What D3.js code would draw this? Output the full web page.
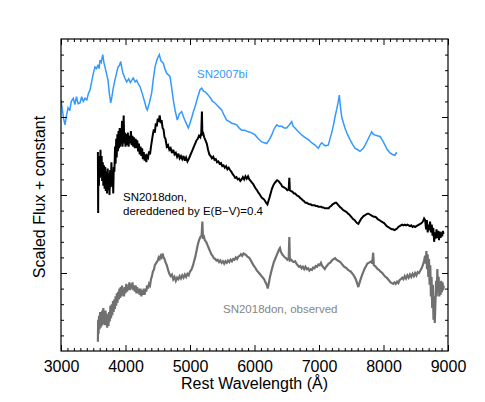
<!DOCTYPE html>
<html lang="en">
<head>
<meta charset="utf-8">
<title>SN2018don spectra</title>
<script src="https://cdn.jsdelivr.net/npm/d3@7"></script>
<style>
  body { margin: 0; background: #fff; }
  svg { font-family: "Liberation Sans", Arial, Helvetica, sans-serif; }
</style>
</head>
<body>
<div id="chart"></div>
<script>
// spectra: [rest wavelength (A), scaled flux + constant]
var sn2007bi = [[3000,3.22],[3020,3.10],[3040,2.98],[3062,2.90],[3085,3.02],[3110,3.12],[3135,3.08],[3160,3.20],[3191,3.24],[3215,3.16],[3240,3.26],[3265,3.17],[3295,3.18],[3320,3.26],[3345,3.20],[3372,3.24],[3400,3.22],[3425,3.30],[3450,3.35],[3475,3.45],[3501,3.56],[3527,3.64],[3550,3.62],[3574,3.67],[3590,3.62],[3605,3.73],[3625,3.70],[3647,3.80],[3665,3.70],[3682,3.64],[3705,3.56],[3729,3.47],[3750,3.30],[3771,3.18],[3790,3.26],[3806,3.35],[3830,3.45],[3860,3.56],[3884,3.64],[3905,3.66],[3926,3.71],[3945,3.62],[3961,3.56],[3990,3.50],[4019,3.45],[4050,3.49],[4075,3.44],[4096,3.47],[4120,3.50],[4150,3.45],[4174,3.47],[4200,3.42],[4225,3.39],[4260,3.30],[4302,3.18],[4320,3.12],[4338,3.09],[4370,3.18],[4406,3.31],[4430,3.48],[4457,3.64],[4490,3.74],[4524,3.80],[4550,3.72],[4586,3.69],[4610,3.62],[4639,3.56],[4665,3.54],[4690,3.52],[4715,3.38],[4741,3.22],[4770,3.08],[4803,2.96],[4835,3.04],[4871,3.07],[4900,3.00],[4930,2.94],[4974,2.86],[5000,2.92],[5026,2.99],[5050,3.06],[5078,3.13],[5115,3.24],[5155,3.35],[5181,3.37],[5210,3.33],[5240,3.32],[5284,3.28],[5320,3.24],[5350,3.20],[5388,3.18],[5420,3.15],[5455,3.12],[5491,3.09],[5530,3.02],[5569,2.96],[5610,2.94],[5647,2.92],[5690,2.91],[5724,2.90],[5760,2.86],[5802,2.83],[5850,2.83],[5904,2.81],[5950,2.80],[6008,2.77],[6060,2.72],[6112,2.68],[6150,2.67],[6189,2.66],[6230,2.71],[6267,2.77],[6300,2.84],[6344,2.90],[6380,2.88],[6422,2.88],[6460,2.86],[6499,2.86],[6540,2.90],[6577,2.94],[6600,2.88],[6628,2.86],[6680,2.81],[6732,2.77],[6780,2.74],[6834,2.71],[6885,2.67],[6938,2.64],[6989,2.60],[7015,2.64],[7042,2.67],[7095,2.63],[7144,2.64],[7170,2.72],[7197,2.80],[7225,2.90],[7248,3.00],[7275,3.10],[7299,3.20],[7315,3.28],[7330,3.15],[7352,3.00],[7380,2.92],[7403,2.86],[7440,2.78],[7481,2.71],[7520,2.65],[7558,2.60],[7600,2.58],[7636,2.56],[7660,2.58],[7687,2.60],[7715,2.64],[7740,2.68],[7780,2.75],[7817,2.81],[7840,2.78],[7868,2.77],[7905,2.76],[7946,2.75],[7985,2.70],[8023,2.64],[8060,2.58],[8101,2.54],[8140,2.52],[8178,2.51],[8195,2.54],[8209,2.53]];

var sn2018donDered = [[3572,2.55],[3576,1.77],[3580,2.45],[3588,2.12],[3596,2.50],[3604,2.22],[3612,2.58],[3620,2.28],[3630,2.50],[3638,2.18],[3648,2.42],[3656,2.12],[3666,2.38],[3676,2.08],[3686,2.36],[3694,2.05],[3704,2.30],[3714,2.02],[3724,2.34],[3734,2.06],[3744,2.28],[3752,2.00],[3762,2.32],[3772,2.10],[3782,2.42],[3790,2.12],[3800,2.30],[3810,2.02],[3818,2.36],[3828,2.30],[3838,2.62],[3846,2.40],[3856,2.72],[3864,2.48],[3874,2.78],[3882,2.56],[3892,2.82],[3900,2.60],[3910,2.86],[3918,2.62],[3928,2.84],[3936,2.66],[3946,2.95],[3954,2.62],[3964,2.82],[3972,3.02],[3980,2.66],[3990,2.80],[4000,2.62],[4012,2.78],[4024,2.64],[4036,2.80],[4048,2.62],[4060,2.76],[4072,2.66],[4084,2.82],[4096,2.64],[4108,2.76],[4120,2.62],[4132,2.74],[4145,2.60],[4158,2.72],[4170,2.60],[4182,2.70],[4195,2.56],[4208,2.66],[4220,2.52],[4233,2.62],[4246,2.50],[4258,2.60],[4270,2.46],[4283,2.55],[4296,2.44],[4310,2.52],[4322,2.42],[4335,2.50],[4350,2.48],[4365,2.56],[4380,2.52],[4395,2.62],[4410,2.70],[4425,2.78],[4440,2.84],[4455,2.80],[4470,2.92],[4485,2.88],[4500,2.98],[4515,2.94],[4530,3.02],[4545,2.92],[4560,2.96],[4575,2.86],[4590,2.84],[4605,2.74],[4620,2.72],[4640,2.62],[4660,2.64],[4680,2.58],[4700,2.60],[4720,2.54],[4740,2.58],[4760,2.52],[4780,2.54],[4800,2.49],[4820,2.53],[4840,2.47],[4860,2.50],[4880,2.46],[4900,2.50],[4920,2.44],[4940,2.48],[4960,2.43],[4980,2.46],[5000,2.50],[5020,2.54],[5040,2.58],[5060,2.62],[5080,2.66],[5100,2.70],[5120,2.72],[5140,2.76],[5160,2.74],[5175,2.80],[5185,3.07],[5192,2.78],[5205,2.79],[5220,2.74],[5240,2.70],[5260,2.66],[5280,2.58],[5300,2.52],[5320,2.50],[5340,2.47],[5360,2.49],[5380,2.45],[5400,2.46],[5420,2.42],[5440,2.43],[5460,2.40],[5480,2.41],[5500,2.37],[5520,2.38],[5540,2.35],[5560,2.37],[5580,2.33],[5600,2.35],[5620,2.32],[5640,2.30],[5660,2.27],[5680,2.25],[5700,2.22],[5720,2.23],[5740,2.20],[5760,2.21],[5780,2.18],[5800,2.20],[5820,2.23],[5840,2.20],[5860,2.24],[5880,2.21],[5900,2.24],[5920,2.20],[5940,2.18],[5960,2.16],[5980,2.14],[6000,2.11],[6020,2.08],[6040,2.06],[6060,2.03],[6080,2.01],[6100,1.98],[6120,1.96],[6140,1.95],[6160,1.93],[6180,1.90],[6200,1.88],[6215,1.92],[6230,1.96],[6250,2.02],[6270,2.08],[6290,2.12],[6310,2.15],[6330,2.17],[6350,2.19],[6370,2.18],[6390,2.16],[6410,2.14],[6430,2.11],[6450,2.10],[6470,2.09],[6490,2.08],[6510,2.06],[6530,2.07],[6540,2.22],[6548,2.06],[6570,2.05],[6590,2.04],[6610,2.02],[6630,2.02],[6650,2.00],[6670,1.99],[6690,1.98],[6710,1.96],[6730,1.95],[6750,1.93],[6770,1.92],[6790,1.90],[6810,1.90],[6830,1.89],[6850,1.88],[6870,1.88],[6890,1.87],[6910,1.87],[6930,1.87],[6950,1.86],[6970,1.86],[6990,1.85],[7010,1.85],[7030,1.85],[7050,1.84],[7070,1.84],[7090,1.83],[7110,1.83],[7130,1.83],[7150,1.83],[7170,1.85],[7190,1.86],[7210,1.88],[7230,1.89],[7250,1.90],[7270,1.90],[7290,1.88],[7310,1.86],[7330,1.84],[7350,1.83],[7370,1.81],[7390,1.80],[7410,1.79],[7430,1.78],[7450,1.76],[7470,1.75],[7490,1.73],[7510,1.71],[7530,1.69],[7550,1.68],[7570,1.66],[7590,1.64],[7610,1.63],[7630,1.66],[7650,1.69],[7670,1.71],[7690,1.73],[7710,1.74],[7730,1.75],[7750,1.76],[7770,1.76],[7790,1.75],[7810,1.74],[7830,1.73],[7850,1.72],[7870,1.72],[7890,1.71],[7910,1.69],[7930,1.68],[7950,1.67],[7970,1.66],[7990,1.65],[8010,1.64],[8030,1.62],[8050,1.60],[8070,1.59],[8090,1.58],[8110,1.57],[8130,1.56],[8150,1.56],[8170,1.55],[8190,1.56],[8210,1.57],[8230,1.59],[8250,1.60],[8270,1.61],[8290,1.62],[8310,1.61],[8330,1.62],[8350,1.61],[8370,1.62],[8390,1.61],[8410,1.60],[8430,1.61],[8450,1.59],[8470,1.60],[8490,1.59],[8510,1.60],[8530,1.61],[8550,1.62],[8570,1.63],[8590,1.64],[8610,1.66],[8630,1.70],[8645,1.68],[8660,1.56],[8672,1.68],[8685,1.52],[8698,1.62],[8710,1.55],[8722,1.66],[8735,1.52],[8748,1.62],[8760,1.48],[8772,1.58],[8785,1.40],[8798,1.52],[8810,1.44],[8822,1.56],[8835,1.45],[8848,1.54],[8860,1.42],[8872,1.53],[8885,1.45],[8898,1.52],[8910,1.47],[8920,1.54],[8930,1.50]];

var sn2018donObs = [[3572,0.12],[3576,0.40],[3582,0.22],[3590,0.45],[3598,0.28],[3606,0.50],[3614,0.30],[3622,0.48],[3630,0.32],[3640,0.52],[3648,0.34],[3656,0.55],[3664,0.36],[3672,0.50],[3680,0.33],[3690,0.52],[3698,0.34],[3706,0.48],[3716,0.30],[3726,0.46],[3736,0.32],[3746,0.50],[3756,0.38],[3766,0.58],[3776,0.42],[3786,0.60],[3796,0.46],[3806,0.64],[3816,0.50],[3826,0.66],[3836,0.54],[3846,0.70],[3856,0.58],[3866,0.74],[3876,0.62],[3886,0.76],[3896,0.66],[3906,0.80],[3916,0.68],[3926,0.82],[3936,0.70],[3946,0.84],[3956,0.72],[3966,0.80],[3976,0.70],[3988,0.82],[4000,0.74],[4012,0.86],[4024,0.76],[4036,0.84],[4048,0.78],[4060,0.88],[4072,0.78],[4084,0.86],[4096,0.80],[4108,0.88],[4120,0.78],[4132,0.84],[4145,0.76],[4158,0.84],[4170,0.74],[4182,0.82],[4195,0.74],[4208,0.80],[4220,0.72],[4233,0.80],[4246,0.70],[4258,0.78],[4270,0.72],[4283,0.80],[4296,0.72],[4310,0.80],[4322,0.76],[4335,0.84],[4350,0.80],[4365,0.86],[4380,0.84],[4395,0.92],[4410,0.96],[4425,1.02],[4440,1.04],[4455,1.10],[4470,1.12],[4485,1.14],[4500,1.16],[4515,1.20],[4530,1.18],[4545,1.22],[4560,1.20],[4575,1.25],[4590,1.20],[4605,1.18],[4620,1.14],[4640,1.10],[4660,1.04],[4680,0.99],[4700,0.96],[4720,0.98],[4740,0.92],[4760,0.95],[4780,0.90],[4800,0.94],[4820,0.92],[4840,0.96],[4860,0.93],[4880,0.97],[4900,0.94],[4920,0.98],[4940,0.95],[4960,0.99],[4980,0.97],[5000,1.02],[5020,1.04],[5040,1.08],[5060,1.14],[5080,1.20],[5100,1.28],[5120,1.36],[5140,1.42],[5160,1.46],[5180,1.48],[5192,1.66],[5200,1.46],[5215,1.47],[5230,1.42],[5250,1.40],[5270,1.36],[5290,1.32],[5310,1.28],[5330,1.24],[5350,1.22],[5370,1.19],[5390,1.18],[5410,1.16],[5430,1.17],[5450,1.14],[5470,1.16],[5490,1.13],[5510,1.15],[5530,1.12],[5550,1.15],[5570,1.13],[5590,1.16],[5610,1.14],[5630,1.17],[5650,1.15],[5670,1.18],[5690,1.17],[5710,1.20],[5730,1.18],[5750,1.21],[5770,1.22],[5790,1.24],[5810,1.22],[5830,1.25],[5850,1.24],[5870,1.23],[5890,1.21],[5910,1.20],[5930,1.18],[5950,1.15],[5970,1.12],[5990,1.09],[6010,1.07],[6030,1.04],[6050,1.02],[6070,1.00],[6090,0.98],[6110,0.96],[6130,0.94],[6150,0.92],[6170,0.88],[6190,0.85],[6205,0.80],[6220,0.86],[6240,0.95],[6260,1.02],[6280,1.08],[6300,1.14],[6320,1.18],[6340,1.22],[6360,1.26],[6380,1.30],[6395,1.32],[6410,1.27],[6430,1.24],[6450,1.22],[6470,1.20],[6490,1.19],[6510,1.17],[6530,1.18],[6540,1.46],[6548,1.16],[6570,1.17],[6590,1.15],[6610,1.14],[6630,1.15],[6650,1.12],[6670,1.10],[6690,1.08],[6710,1.09],[6730,1.06],[6750,1.08],[6770,1.05],[6790,1.08],[6810,1.05],[6830,1.06],[6850,1.03],[6870,1.05],[6890,1.04],[6910,1.07],[6930,1.06],[6950,1.09],[6970,1.08],[6990,1.11],[7010,1.10],[7030,1.13],[7050,1.09],[7070,1.07],[7090,1.05],[7110,1.08],[7130,1.10],[7150,1.12],[7170,1.13],[7190,1.15],[7210,1.17],[7230,1.18],[7250,1.19],[7270,1.17],[7290,1.16],[7310,1.15],[7330,1.14],[7350,1.12],[7370,1.10],[7390,1.08],[7410,1.07],[7430,1.06],[7450,1.04],[7470,1.03],[7490,1.02],[7510,1.00],[7530,0.98],[7550,0.95],[7570,0.92],[7590,0.87],[7610,0.82],[7630,0.88],[7650,0.93],[7670,0.98],[7690,1.02],[7710,1.06],[7730,1.09],[7750,1.12],[7770,1.13],[7790,1.14],[7810,1.15],[7825,1.12],[7840,1.26],[7850,1.10],[7870,1.09],[7890,1.07],[7910,1.05],[7930,1.04],[7950,1.02],[7970,1.01],[7990,0.99],[8010,0.97],[8030,0.95],[8050,0.94],[8070,0.92],[8090,0.90],[8110,0.88],[8130,0.87],[8150,0.86],[8170,0.88],[8190,0.86],[8210,0.89],[8230,0.87],[8250,0.91],[8270,0.92],[8290,0.94],[8310,0.92],[8330,0.96],[8350,0.93],[8370,0.97],[8390,0.94],[8410,0.98],[8430,0.95],[8450,0.99],[8470,0.96],[8490,1.00],[8510,0.97],[8530,1.01],[8550,1.00],[8570,1.03],[8590,1.06],[8610,1.10],[8630,1.16],[8645,1.22],[8655,1.12],[8665,1.28],[8675,1.05],[8685,1.24],[8695,0.95],[8705,1.18],[8715,0.85],[8725,1.10],[8735,0.70],[8745,0.95],[8755,0.55],[8765,0.85],[8775,0.40],[8785,0.70],[8795,0.36],[8805,0.62],[8815,0.90],[8825,0.70],[8835,1.05],[8845,0.75],[8855,0.95],[8865,0.70],[8875,0.88],[8885,0.72],[8895,0.90],[8905,0.75],[8915,0.88],[8925,0.78],[8935,0.84]];

var xMajorTicks = [3000, 4000, 5000, 6000, 7000, 8000, 9000];
var yMajorTicks = [1, 2, 3];

var seriesNames = ["SN2007bi", "SN2018don, dereddened", "SN2018don, observed"];
var seriesColors = ["#3399ff", "#000000", "#707070"];

var width = 485, height = 402;
var margin = {top: 39, right: 37, bottom: 51, left: 61};

var x = d3.scaleLinear().domain([3000, 9000]).range([margin.left, width - margin.right]);
var y = d3.scaleLinear().domain([0, 4]).range([height - margin.bottom, margin.top]);

var svg = d3.select("#chart").append("svg")
    .attr("width", width)
    .attr("height", height);

svg.append("clipPath").attr("id", "plot-clip")
  .append("rect")
    .attr("x", x(3000)).attr("y", y(4))
    .attr("width", x(9000) - x(3000)).attr("height", y(0) - y(4));

var line = d3.line()
    .x(function(d) { return x(d[0]); })
    .y(function(d) { return y(d[1]); });

var spectra = [sn2007bi, sn2018donDered, sn2018donObs];
// noisy spectra drawn thicker so they read as a band, like the original
var widths = [1.5, 2, 2.2];

svg.append("g").attr("clip-path", "url(#plot-clip)")
  .selectAll("path")
  .data(spectra)
  .enter().append("path")
    .attr("d", line)
    .attr("fill", "none")
    .attr("stroke", function(d, i) { return seriesColors[i]; })
    .attr("stroke-width", function(d, i) { return widths[i]; })
    .attr("stroke-linejoin", "miter")
    .attr("stroke-miterlimit", 3);

// minor ticks, every 100 A and every 0.2 units
var xMinor = d3.range(3000, 9001, 100).filter(function(v) { return v % 1000 != 0; });
var yMinor = d3.range(1, 20).map(function(v) { return v / 5; }).filter(function(v) { return v % 1 != 0; });

function tickAxis(axis, scale, values, size, tx, ty) {
  var g = svg.append("g")
      .attr("transform", "translate(" + tx + "," + ty + ")")
      .call(axis(scale).tickValues(values).tickSize(-size).tickFormat(""));
  g.select(".domain").remove();
  g.selectAll("line").attr("stroke", "#000");
  return g;
}

var x0 = x(3000), x1 = x(9000), y0 = y(0), y1 = y(4);
tickAxis(d3.axisBottom, x, xMinor, 3, 0, y0);
tickAxis(d3.axisTop, x, xMinor, 3, 0, y1);
tickAxis(d3.axisBottom, x, xMajorTicks, 6, 0, y0);
tickAxis(d3.axisTop, x, xMajorTicks, 6, 0, y1);
tickAxis(d3.axisLeft, y, yMinor, 3, x0, 0);
tickAxis(d3.axisRight, y, yMinor, 3, x1, 0);
tickAxis(d3.axisLeft, y, yMajorTicks, 6, x0, 0);
tickAxis(d3.axisRight, y, yMajorTicks, 6, x1, 0);

// x tick labels
svg.append("g")
    .attr("transform", "translate(0," + y0 + ")")
    .call(d3.axisBottom(x).tickValues(xMajorTicks).tickSize(0).tickPadding(9.5).tickFormat(d3.format("d")))
    .call(function(g) { g.select(".domain").remove(); })
    .selectAll("text")
    .attr("font-size", "16px")
    .attr("font-family", "'Liberation Sans', Arial, sans-serif")
    .attr("fill", "#000");

// frame
svg.append("rect")
    .attr("x", x0).attr("y", y1)
    .attr("width", x1 - x0).attr("height", y0 - y1)
    .attr("fill", "none")
    .attr("stroke", "#000")
    .attr("stroke-width", 1.2);

// axis titles
svg.append("text")
    .attr("x", (x0 + x1) / 2).attr("y", 389)
    .attr("text-anchor", "middle")
    .attr("font-size", "16px")
    .text("Rest Wavelength (\u00c5)");

svg.append("text")
    .attr("transform", "translate(45," + ((y0 + y1) / 2 + 2) + ") rotate(-90)")
    .attr("text-anchor", "middle")
    .attr("font-size", "16px")
    .text("Scaled Flux + constant");

// spectrum labels
svg.append("text")
    .attr("x", 197).attr("y", 78)
    .attr("font-size", "11.5px")
    .attr("fill", seriesColors[0])
    .text("SN2007bi");

var lbl = svg.append("text")
    .attr("x", 123).attr("y", 200.5)
    .attr("font-size", "11.5px")
    .attr("fill", seriesColors[1]);
lbl.append("tspan").attr("x", 123).text("SN2018don,");
lbl.append("tspan").attr("x", 123).attr("dy", 14).text("dereddened by E(B\u2212V)=0.4");

svg.append("text")
    .attr("x", 223).attr("y", 312.5)
    .attr("font-size", "11.5px")
    .attr("fill", "#858585")
    .text("SN2018don, observed");
</script>
</body>
</html>
